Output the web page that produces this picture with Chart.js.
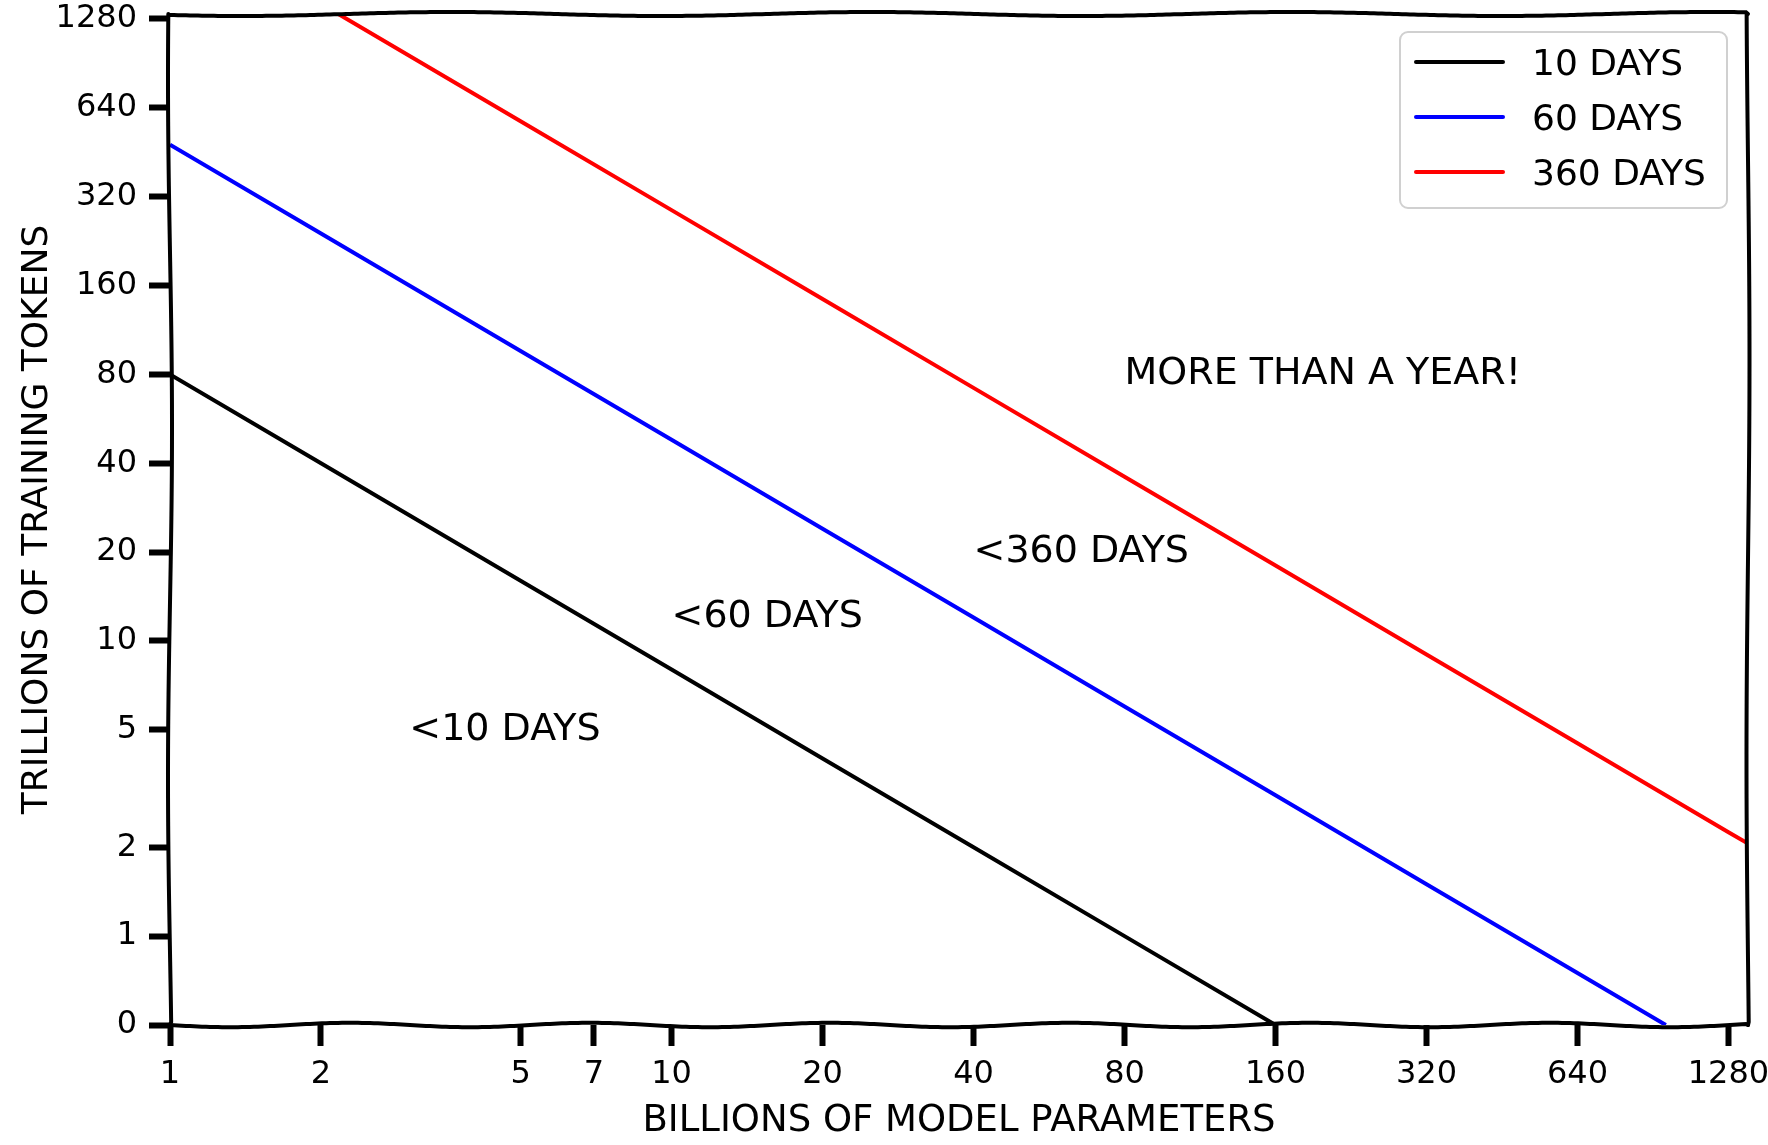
<!DOCTYPE html>
<html>
<head>
<meta charset="utf-8">
<script src="https://cdn.jsdelivr.net/npm/chart.js@4.4.0/dist/chart.umd.min.js"></script>
<style>
html, body { margin: 0; padding: 0; background: #fff; }
#wrap { width: 1768px; height: 1145px; }
</style>
</head>
<body>
<div id="wrap"><canvas id="chart"></canvas></div>
<script>
var FONT = '"DejaVu Sans", sans-serif';

var seriesLabels = ['10 DAYS', '60 DAYS', '360 DAYS'];
var seriesColors = ['#000000', '#0000ff', '#ff0000'];

// billions of parameters (x) vs trillions of tokens (y)
var params10 = [1, 2, 5, 10, 20, 40, 80, 160];
var tokens10 = [80, 40, 16, 8, 4, 2, 1, 0.5];
var params60 = [1, 2, 5, 10, 20, 40, 80, 160, 320, 640, 960];
var tokens60 = [480, 240, 96, 48, 24, 12, 6, 3, 1.5, 0.75, 0.5];
var params360 = [2, 5, 10, 20, 40, 80, 160, 320, 640, 1280, 1400];
var tokens360 = [1440, 576, 288, 144, 72, 36, 18, 9, 4.5, 2.25, 2.06];

var xTicks = [1, 2, 5, 7, 10, 20, 40, 80, 160, 320, 640, 1280];
var xTickLabels = ['1', '2', '5', '7', '10', '20', '40', '80', '160', '320', '640', '1280'];
var yTicks = [0.5, 1, 2, 5, 10, 20, 40, 80, 160, 320, 640, 1280];
var yTickLabels = ['0', '1', '2', '5', '10', '20', '40', '80', '160', '320', '640', '1280'];

var notes = ['<10 DAYS', '<60 DAYS', '<360 DAYS', 'MORE THAN A YEAR!'];
var noteX = [3, 10, 40, 80];
var noteY = [5, 12, 20, 80];

function pairs(xs, ys) {
  return xs.map(function(x, i) { return {x: x, y: ys[i]}; });
}

function wavy(ctx, x0, y0, x1, y1, amp, period, phase) {
  var len = Math.hypot(x1 - x0, y1 - y0);
  var nx = -(y1 - y0) / len, ny = (x1 - x0) / len;
  ctx.beginPath();
  for (var s = 0; s <= len; s += 4) {
    var t = s / len;
    var off = amp * Math.sin(2 * Math.PI * s / period + phase);
    var px = x0 + (x1 - x0) * t + nx * off;
    var py = y0 + (y1 - y0) * t + ny * off;
    if (s === 0) ctx.moveTo(px, py); else ctx.lineTo(px, py);
  }
  ctx.lineTo(x1, y1);
  ctx.stroke();
}

var framePlugin = {
  id: 'frame',
  afterDatasetsDraw: function(chart) {
    var ctx = chart.ctx, a = chart.chartArea;
    ctx.save();
    ctx.strokeStyle = '#000';
    ctx.lineWidth = 4;
    ctx.lineCap = 'round';
    wavy(ctx, a.left, a.top, a.right, a.top, 2, 420, 0.5);
    wavy(ctx, a.left, a.bottom, a.right, a.bottom, 2.2, 240, 0);
    wavy(ctx, a.left, a.top, a.left, a.bottom, 2, 700, 1);
    wavy(ctx, a.right, a.top, a.right, a.bottom, 1.5, 800, 2);

    // annotations
    ctx.fillStyle = '#000';
    ctx.font = '38px ' + FONT;
    ctx.textAlign = 'left';
    ctx.textBaseline = 'middle';
    var xs = chart.scales.x, ys = chart.scales.y;
    notes.forEach(function(txt, i) {
      ctx.fillText(txt, xs.getPixelForValue(noteX[i]), ys.getPixelForValue(noteY[i]));
    });

    // legend
    var lx = 1400, ly = 32, lw = 327, lh = 176;
    ctx.lineWidth = 2;
    ctx.strokeStyle = '#d0d0d0';
    ctx.fillStyle = 'rgba(255,255,255,0.9)';
    ctx.beginPath();
    ctx.roundRect(lx, ly, lw, lh, 8);
    ctx.fill();
    ctx.stroke();
    ctx.font = '36px ' + FONT;
    chart.data.datasets.forEach(function(ds, i) {
      var y = 62 + i * 55;
      ctx.strokeStyle = ds.borderColor;
      ctx.lineWidth = 4;
      ctx.beginPath();
      ctx.moveTo(1416, y);
      ctx.lineTo(1503, y);
      ctx.stroke();
      ctx.fillStyle = '#000';
      ctx.fillText(ds.label, 1532, y + 4);
    });
    ctx.restore();
  }
};

var ctx = document.getElementById('chart').getContext('2d');
new Chart(ctx, {
  type: 'line',
  data: {
    datasets: [
      {label: seriesLabels[0], data: pairs(params10, tokens10), borderColor: seriesColors[0]},
      {label: seriesLabels[1], data: pairs(params60, tokens60), borderColor: seriesColors[1]},
      {label: seriesLabels[2], data: pairs(params360, tokens360), borderColor: seriesColors[2]}
    ]
  },
  options: {
    responsive: true,
    maintainAspectRatio: false,
    animation: false,
    layout: {padding: {top: 14, right: 20, left: 0, bottom: 0}},
    elements: {
      line: {borderWidth: 4, tension: 0, fill: false},
      point: {radius: 0}
    },
    plugins: {
      legend: {display: false},
      tooltip: {enabled: false}
    },
    scales: {
      x: {
        type: 'logarithmic',
        min: 1,
        max: 1400,
        afterBuildTicks: function(scale) {
          scale.ticks = xTicks.map(function(v) { return {value: v}; });
        },
        afterFit: function(scale) {
          scale.height = 120;
          scale.paddingLeft = 0;
          scale.paddingRight = 0;
        },
        ticks: {
          autoSkip: false,
          maxRotation: 0,
          padding: 9,
          color: '#000',
          font: {family: FONT, size: 32},
          callback: function(v, i) { return xTickLabels[i]; }
        },
        grid: {drawOnChartArea: false, tickLength: 21, tickWidth: 6, tickColor: '#000'},
        border: {display: false},
        title: {
          display: true,
          text: 'BILLIONS OF MODEL PARAMETERS',
          color: '#000',
          font: {family: FONT, size: 37},
          padding: {top: 0, bottom: 1}
        }
      },
      y: {
        type: 'logarithmic',
        min: 0.5,
        max: 1330,
        afterBuildTicks: function(scale) {
          scale.ticks = yTicks.map(function(v) { return {value: v}; });
        },
        afterFit: function(scale) {
          scale.width = 170;
          scale.paddingTop = 0;
          scale.paddingBottom = 0;
        },
        ticks: {
          autoSkip: false,
          padding: 12,
          color: '#000',
          font: {family: FONT, size: 32},
          callback: function(v, i) { return yTickLabels[i]; }
        },
        grid: {drawOnChartArea: false, tickLength: 21, tickWidth: 6, tickColor: '#000'},
        border: {display: false},
        title: {
          display: true,
          text: 'TRILLIONS OF TRAINING TOKENS',
          color: '#000',
          font: {family: FONT, size: 36},
          padding: {top: 16, bottom: 0}
        }
      }
    }
  },
  plugins: [framePlugin]
});
</script>
</body>
</html>
